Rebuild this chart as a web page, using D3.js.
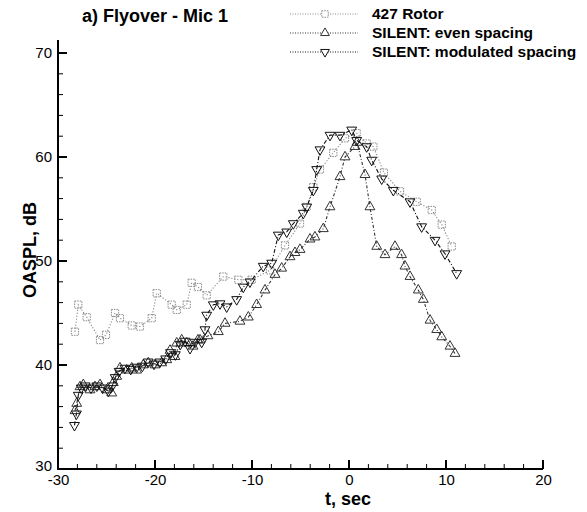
<!DOCTYPE html>
<html><head><meta charset="utf-8">
<script src="https://cdn.jsdelivr.net/npm/d3@7"></script>
<style>
html,body{margin:0;padding:0;background:#fff;}
svg{display:block;}
text{font-family:"Liberation Sans",Arial,Helvetica,sans-serif;}
</style></head>
<body>
<svg id="chart" width="587" height="512"></svg>
<script>
// ---------- data ----------
const seriesNames = ["427 Rotor", "SILENT: even spacing", "SILENT: modulated spacing"];
const titleText = "a) Flyover - Mic 1";
const xTicks = [-30, -20, -10, 0, 10, 20];
const yTicks = [30, 40, 50, 60, 70];

const rotorT = [-28.25,-27.91,-27.04,-25.67,-25.05,-24.12,-23.61,-22.40,-21.55,-20.34,-19.82,-18.28,-17.76,-16.73,-16.22,-15.57,-14.67,-12.96,-11.41,-10.03,-8.14,-6.60,-5.05,-4.36,-3.68,-2.99,-1.62,-0.41,0.79,1.82,2.51,3.60,5.26,6.98,8.53,9.56,10.59];
const rotorV = [43.2,45.8,44.6,42.4,42.9,45.0,44.5,43.8,43.7,44.5,46.9,45.8,45.3,45.8,47.9,47.5,46.7,48.5,48.2,48.2,49.1,51.5,53.6,55.2,57.1,58.8,60.4,61.8,62.3,61.3,61.0,58.5,56.7,55.7,54.9,53.5,51.4];

const evenT = [-28.25,-28.07,-27.73,-27.39,-26.70,-26.19,-25.67,-24.98,-24.46,-24.30,-23.95,-23.61,-22.92,-22.40,-21.89,-21.21,-20.69,-20.00,-19.31,-18.79,-18.45,-17.94,-17.76,-17.25,-16.73,-16.08,-15.57,-15.36,-14.54,-13.47,-12.78,-11.24,-10.38,-9.52,-8.66,-7.63,-6.94,-6.08,-5.57,-5.05,-4.02,-3.51,-2.65,-1.96,-0.93,-0.41,0.62,0.82,1.65,2.16,2.86,3.71,4.74,5.42,5.77,6.29,7.14,7.66,8.35,9.04,9.56,10.41,10.93];
const evenV = [35.6,36.3,37.9,38.1,37.6,37.9,38.1,37.6,37.3,38.3,38.9,39.7,39.5,39.7,39.5,40.0,40.2,40.0,40.2,40.5,41.4,40.8,42.1,42.4,42.1,41.8,42.4,42.4,42.8,43.2,44.0,44.2,44.6,45.8,47.2,48.7,49.3,50.4,50.8,51.1,52.1,52.3,53.1,55.2,58.1,60.0,61.0,61.4,58.3,55.2,51.4,50.6,51.4,50.6,49.5,48.5,47.2,46.3,44.3,43.4,42.7,41.8,41.1];

const modT = [-28.30,-28.10,-27.91,-27.60,-27.20,-26.60,-26.00,-25.40,-24.80,-24.40,-24.10,-23.70,-23.10,-22.50,-21.90,-21.30,-20.70,-20.10,-19.50,-18.90,-18.40,-17.90,-17.40,-16.90,-16.39,-15.88,-15.19,-14.85,-14.67,-13.99,-13.30,-12.61,-11.58,-10.90,-10.21,-8.84,-7.97,-7.29,-6.42,-5.74,-4.71,-4.36,-3.68,-3.33,-2.99,-1.96,-0.93,0.28,0.79,1.82,2.34,3.37,4.57,6.29,7.49,8.87,9.90,11.10];
const modV = [34.2,35.3,37.1,37.8,38.0,37.8,38.0,37.8,37.5,38.0,38.8,39.4,39.7,39.6,39.8,39.9,40.3,40.1,40.3,40.6,41.2,41.0,42.0,42.3,41.6,42.2,42.2,43.4,44.8,45.8,45.9,45.6,46.3,47.5,48.0,49.5,49.8,52.5,52.8,53.6,54.6,55.2,56.8,58.8,60.7,62.1,62.1,62.6,61.6,61.0,59.7,57.9,56.8,55.7,53.3,52.0,50.7,48.8];

// ---------- layout ----------
const svg = d3.select("#chart");
const x = d3.scaleLinear().domain([-30, 20]).range([58, 543]);
const y = d3.scaleLinear().domain([30, 71.25]).range([469, 40]);

const styles = [
  {stroke:"#8a8a8a", dash:"1.2,1.8", sym:d3.symbolSquare, size:52, rot:0, mstroke:"#8a8a8a", mdash:"1.5,1"},
  {stroke:"#333", dash:"3,2,1,2", sym:d3.symbolTriangle, size:42, rot:0, mstroke:"#333", mdash:null},
  {stroke:"#111", dash:"4,2,1,2", sym:d3.symbolTriangle, size:42, rot:180, mstroke:"#111", mdash:null}
];
const data = [
  rotorT.map((t,i)=>[t, rotorV[i]]),
  evenT.map((t,i)=>[t, evenV[i]]),
  modT.map((t,i)=>[t, modV[i]])
];

// axes
const fmt = d => String(d);
const gx = svg.append("g").attr("transform", `translate(0,${y(30)})`);
gx.call(d3.axisBottom(x).tickValues(xTicks).tickSize(0).tickPadding(5).tickFormat(fmt));
gx.select(".domain").remove();
gx.selectAll("text").attr("font-size", 15).attr("fill","#000");

const gy = svg.append("g").attr("transform", `translate(${x(-30)},0)`);
gy.call(d3.axisLeft(y).tickValues(yTicks).tickSize(0).tickPadding(6).tickFormat(fmt));
gy.select(".domain").remove();
gy.selectAll("text").attr("font-size", 15).attr("fill","#000");
gy.selectAll(".tick").filter(d=>d===30).select("text").attr("dy","0.1em");

// inward ticks
const xMinor = d3.range(-30, 20.01, 2);
svg.append("g").selectAll("line").data(xMinor).join("line")
  .attr("x1", d=>x(d)).attr("x2", d=>x(d))
  .attr("y1", y(30)).attr("y2", d=> y(30) - (xTicks.includes(d) ? 9 : 5))
  .attr("stroke","#000").attr("stroke-width", d=>xTicks.includes(d)?2:1);
const yMinor = d3.range(30, 70.01, 2);
svg.append("g").selectAll("line").data(yMinor).join("line")
  .attr("y1", d=>y(d)).attr("y2", d=>y(d))
  .attr("x1", x(-30)).attr("x2", d=> x(-30) + (yTicks.includes(d) ? 9 : 5))
  .attr("stroke","#000").attr("stroke-width", d=>yTicks.includes(d)?2:1);

// axis lines
svg.append("line").attr("x1", x(-30)).attr("x2", x(20)).attr("y1", y(30)).attr("y2", y(30))
  .attr("stroke","#000").attr("stroke-width",2);
svg.append("line").attr("x1", x(-30)).attr("x2", x(-30)).attr("y1", y(30)+1).attr("y2", y(71.25))
  .attr("stroke","#000").attr("stroke-width",2);

// axis titles
svg.append("text").attr("x", 348).attr("y", 505).attr("text-anchor","middle")
  .attr("font-size",18).attr("font-weight","bold").text("t, sec");
svg.append("text").attr("transform", `translate(36,250) rotate(-90)`).attr("text-anchor","middle")
  .attr("font-size",18).attr("font-weight","bold").text("OASPL, dB");

// title
svg.append("text").attr("x", 82).attr("y", 22).attr("font-size",18).attr("font-weight","bold").text(titleText);

// series
const line = d3.line().x(d=>x(d[0])).y(d=>y(d[1]));
data.forEach((ser, k) => {
  const st = styles[k];
  svg.append("path").datum(ser).attr("d", line).attr("fill","none")
    .attr("stroke", st.stroke).attr("stroke-width",1.1).attr("stroke-dasharray", st.dash);
  svg.append("g").selectAll("path").data(ser).join("path")
    .attr("d", d3.symbol().type(st.sym).size(st.size))
    .attr("transform", d=>`translate(${x(d[0])},${y(d[1])}) rotate(${st.rot})`)
    .attr("fill","none").attr("stroke", st.mstroke).attr("stroke-width",1)
    .attr("stroke-dasharray", st.mdash);
});

// legend
const legY = [14, 33, 52];
seriesNames.forEach((name, k) => {
  const st = styles[k];
  const g = svg.append("g");
  g.append("line").attr("x1",290).attr("x2",358).attr("y1",legY[k]).attr("y2",legY[k])
    .attr("stroke", st.stroke).attr("stroke-width",1).attr("stroke-dasharray","1,1.5");
  g.append("path").attr("d", d3.symbol().type(st.sym).size(st.size*0.8))
    .attr("transform", `translate(325,${legY[k]}) rotate(${st.rot})`)
    .attr("fill","#fff").attr("stroke", st.mstroke).attr("stroke-width",1).attr("stroke-dasharray", st.mdash);
  g.append("text").attr("x",372).attr("y",legY[k]+5).attr("font-size",15.5).attr("font-weight","bold").text(name);
});
</script>
</body></html>
